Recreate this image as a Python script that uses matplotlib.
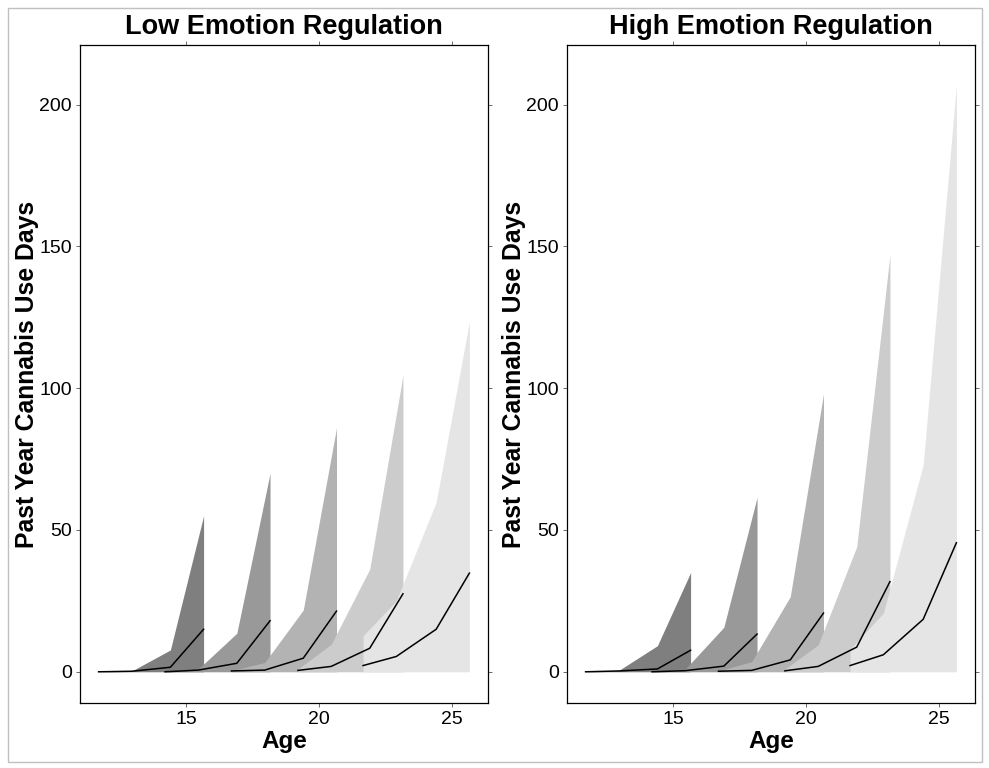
import matplotlib
matplotlib.use("Agg")
import matplotlib.pyplot as plt
from matplotlib.patches import Rectangle

plt.rcParams['font.family'] = ['Liberation Sans', 'DejaVu Sans']

# ages of the four waves for each of the five cohorts
ages = [
    [11.7, 12.95, 14.4, 15.65],
    [14.2, 15.45, 16.9, 18.15],
    [16.7, 17.95, 19.4, 20.65],
    [19.2, 20.45, 21.9, 23.15],
    [21.65, 22.9, 24.4, 25.65],
]
fills = ['#7f7f7f', '#999999', '#b3b3b3', '#cccccc', '#e5e5e5']

# low emotion regulation
low_mean = [
    [0, 0.2, 1.6, 15.0],
    [0, 0.6, 3.0, 18.0],
    [0.3, 0.6, 4.8, 21.4],
    [0.5, 1.9, 8.3, 27.5],
    [2.2, 5.4, 15.0, 34.8],
]
low_upper = [
    [0, 0.3, 7.7, 55],
    [0, 1.0, 13.6, 70],
    [0.4, 3.3, 21.8, 86],
    [1.0, 9.7, 36.2, 104.5],
    [12.7, 25, 59.8, 123.5],
]
low_lower = [
    [0, 0, 0, 0],
    [0, 0, 0, 0],
    [0, 0, 0, 0],
    [0, 0, 0, 0],
    [0, 0, 0, 0],
]

# high emotion regulation
high_mean = [
    [0, 0.3, 1.0, 7.6],
    [0, 0.4, 2.0, 13.3],
    [0.2, 0.5, 4.2, 20.7],
    [0.35, 1.9, 8.7, 31.8],
    [2.2, 6.0, 18.5, 45.5],
]
high_upper = [
    [0, 0.5, 9.2, 35],
    [0, 1.0, 15.7, 61.5],
    [0.3, 3.6, 26.5, 98],
    [1.0, 9.5, 44.1, 147],
    [8.0, 20.7, 72.9, 207],
]
high_lower = low_lower

titles = ['Low Emotion Regulation', 'High Emotion Regulation']

fig = plt.figure(figsize=(9.89, 7.68), dpi=100)
fig.patches.append(Rectangle((8/989, 6/768), 974/989, 754/768, transform=fig.transFigure,
                             fill=False, edgecolor='#c0c0c0', linewidth=1))

panels = [(low_mean, low_upper, low_lower), (high_mean, high_upper, high_lower)]
lefts = [80/989, 567/989]

for k in range(2):
    ax = fig.add_axes([lefts[k], 65/768, 408/989, 658/768])
    mean, upper, lower = panels[k]
    for i in range(5):
        ax.fill_between(ages[i], lower[i], upper[i], color=fills[i], linewidth=0)
    for i in range(5):
        ax.plot(ages[i], mean[i], color='black', linewidth=1.1)
    ax.set_xlim(11.0, 26.35)
    ax.set_ylim(-11, 221)
    ax.set_xticks([15, 20, 25])
    ax.set_yticks([0, 50, 100, 150, 200])
    ax.tick_params(axis='both', which='both', direction='out', length=3, width=0.6,
                   color='#555555', labelsize=14, top=True, right=True, pad=3)
    for s in ax.spines.values():
        s.set_color('black')
        s.set_linewidth(0.9)
    ax.set_title(titles[k], fontsize=19.5, fontweight='bold', pad=8)
    ax.set_xlabel('Age', fontsize=17.5, fontweight='bold', labelpad=1)
    ax.set_ylabel('Past Year Cannabis Use Days', fontsize=17.8, fontweight='bold', labelpad=0)

plt.savefig('out.png', dpi=100)
